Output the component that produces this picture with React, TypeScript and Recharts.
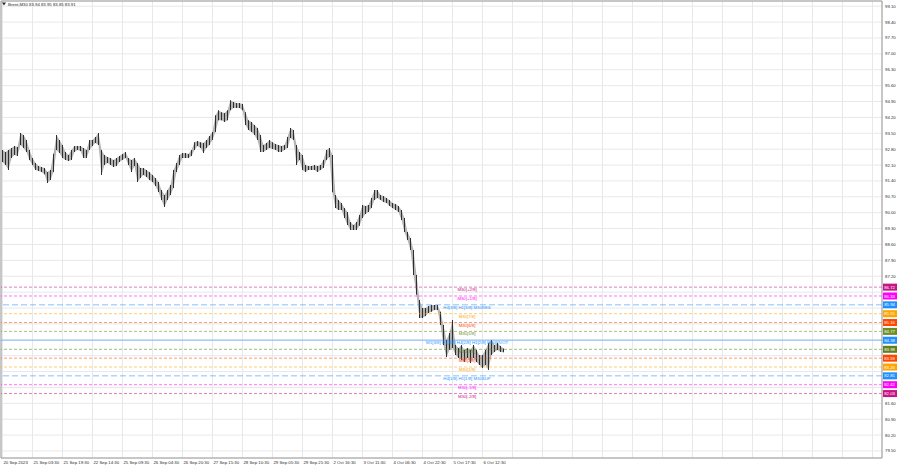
import { ComposedChart, Area, Bar, XAxis, YAxis, CartesianGrid, ReferenceLine, Customized } from "recharts"

const FONT = "'Liberation Sans', Arial, sans-serif"
const TEXT = "#2b2b2b"

const xLabels = [
  "20 Sep 2023", "21 Sep 03:30", "21 Sep 19:30", "22 Sep 14:30", "25 Sep 09:30", "26 Sep 04:30",
  "26 Sep 20:30", "27 Sep 15:30", "28 Sep 10:30", "29 Sep 05:30", "29 Sep 21:30", "2 Oct 16:30",
  "3 Oct 11:30", "4 Oct 06:30", "4 Oct 22:30", "5 Oct 17:30", "6 Oct 12:30",
]

const yTicks = [
  79.5, 80.2, 80.9, 81.6, 82.3, 83.0, 83.7, 84.4, 85.1, 85.8, 86.5, 87.2, 87.9, 88.6, 89.3,
  90.0, 90.7, 91.4, 92.1, 92.8, 93.5, 94.2, 94.9, 95.6, 96.3, 97.0, 97.7, 98.4, 99.1,
]

// bar highs / lows, one entry per ~3 M30 bars
const highs = [
  92.76, 92.67, 92.76, 92.85, 92.94, 92.90, 93.51, 93.42, 93.20, 92.76,
  92.41, 92.19, 92.06, 92.01, 91.97, 91.79, 91.88, 92.60, 93.42, 93.20,
  92.98, 92.67, 92.54, 92.76, 92.94, 92.94, 92.94, 92.85, 92.76, 93.20,
  93.20, 93.34, 93.51, 92.76, 92.54, 92.45, 92.41, 92.32, 92.41, 92.50,
  92.59, 92.67, 92.41, 92.32, 92.41, 92.19, 91.97, 91.97, 91.88, 91.79,
  91.66, 91.53, 91.35, 91.00, 90.78, 91.00, 91.22, 91.88, 92.19, 92.54,
  92.63, 92.63, 92.59, 92.76, 93.11, 93.16, 93.11, 93.07, 93.20, 93.38,
  93.56, 94.30, 94.52, 94.43, 94.39, 94.52, 94.96, 94.88, 94.83, 94.83,
  94.79, 94.43, 94.08, 94.00, 93.86, 93.73, 93.42, 92.98, 93.07, 93.20,
  93.11, 93.03, 92.98, 92.94, 92.98, 93.34, 93.73, 93.64, 92.98, 92.67,
  92.54, 92.10, 92.06, 92.06, 92.10, 92.06, 92.10, 92.32, 92.76, 92.85,
  92.54, 90.78, 90.56, 90.43, 90.21, 90.03, 89.59, 89.46, 89.59, 89.90,
  90.34, 90.30, 90.34, 90.65, 91.00, 91.00, 90.78, 90.74, 90.65, 90.56,
  90.43, 90.38, 90.30, 90.12, 89.77, 89.15, 88.89, 88.36, 87.26, 86.15,
  85.80, 85.80, 85.89, 85.93, 85.93, 85.93, 85.63, 85.05, 84.39, 84.70,
  85.27, 84.17, 84.04, 84.17, 83.95, 84.04, 83.95, 84.17, 83.95, 83.73,
  83.73, 83.95, 84.26, 84.39, 84.17, 84.26, 84.13, 84.02,
]

const lows = [
  92.23, 92.10, 91.88, 92.41, 92.54, 92.50, 92.98, 92.85, 92.67, 92.32,
  92.10, 91.88, 91.84, 91.79, 91.70, 91.31, 91.44, 91.79, 92.76, 92.63,
  92.41, 92.32, 92.28, 92.32, 92.67, 92.76, 92.72, 92.41, 92.41, 92.76,
  92.94, 93.07, 92.98, 91.66, 92.10, 92.19, 92.10, 92.01, 92.06, 92.23,
  92.32, 92.41, 92.10, 91.79, 92.06, 91.35, 91.53, 91.66, 91.57, 91.44,
  91.35, 91.18, 90.91, 90.56, 90.25, 90.56, 90.78, 91.09, 91.79, 92.10,
  92.41, 92.41, 92.41, 92.50, 92.76, 92.94, 92.85, 92.63, 92.85, 92.98,
  93.20, 93.56, 94.08, 94.08, 94.00, 94.08, 94.52, 94.61, 94.61, 94.61,
  94.52, 93.86, 93.64, 93.56, 93.42, 93.20, 92.67, 92.67, 92.76, 92.85,
  92.81, 92.76, 92.67, 92.67, 92.76, 92.85, 93.29, 93.20, 92.10, 92.32,
  91.88, 91.79, 91.88, 91.88, 91.88, 91.79, 91.88, 91.97, 92.32, 92.45,
  90.90, 90.21, 90.12, 90.12, 89.77, 89.46, 89.24, 89.24, 89.24, 89.42,
  89.77, 89.94, 90.03, 90.21, 90.56, 90.65, 90.56, 90.47, 90.43, 90.30,
  90.21, 90.12, 90.03, 89.68, 89.15, 88.80, 88.36, 87.26, 86.38, 85.36,
  85.36, 85.45, 85.58, 85.63, 85.71, 85.71, 85.05, 84.17, 83.64, 83.95,
  84.04, 83.73, 83.60, 83.51, 83.42, 83.60, 83.38, 83.60, 83.42, 83.29,
  83.16, 83.29, 83.07, 83.73, 83.86, 83.95, 83.86, 83.85,
]

const levelValues = [86.72, 86.33, 85.94, 85.55, 85.16, 84.77, 84.38, 83.98, 83.59, 83.2, 82.81, 82.42, 82.03]
const levelNames = [
  "M30[+2/8]", "M30[+1/8]", "H4[3/8] H1[3/8] M30RES", "M30[7/8]", "M30[6/8]", "M30[5/8]",
  "W1[3/8] D1[3/8] H4[2/8] H1[2/8] M30PIVOT", "M30[3/8]", "M30[2/8]", "M30[1/8]",
  "H4[1/8] H1[1/8] M30SUP", "M30[-1/8]", "M30[-2/8]",
]

// styles for the levels
const levelColors = [
  "#c71585", "#ff00ff", "#1e90ff", "#ffa500", "#ff4500", "#6b8e23", "#1e90ff",
  "#5f7f1f", "#ff4500", "#ffa500", "#1e90ff", "#ff00ff", "#c71585",
]
const levelDash = ["3 2", "3 2", "6 3", "3 2", "3 2", "3 2", undefined, "3 2", "3 2", "3 2", "6 3", "3 2", "3 2"]

const rows = highs.map((h, i) => ({ i, range: [lows[i], h] }))
const gridTicks = Array.from({ length: 30 }, (_, k) => k * 10)

const XTick = ({ x, y, payload }: any) => {
  const label = xLabels[payload.value / 10]
  if (!label) return <g />
  return (
    <text x={x + 1} y={y + 5.5} fontSize={4.3} fill={TEXT} fontFamily={FONT} textAnchor="start">
      {label}
    </text>
  )
}

// price labels that sit under a level box are covered in the terminal, so skip them
const YTick = ({ x, y, payload }: any) => {
  if (levelValues.some((v) => Math.abs(v - payload.value) < 0.21)) return <g />
  return (
    <text x={x + 3} y={y + 1.5} fontSize={4.3} fill={TEXT} fontFamily={FONT} textAnchor="start">
      {payload.value.toFixed(2)}
    </text>
  )
}

const LevelLabel = ({ viewBox, name, value, color }: any) => {
  if (!viewBox) return null
  const { x, y, width } = viewBox
  return (
    <g>
      <text x={x + 466} y={y + 4} fontSize={4.3} fill={color} fontFamily={FONT} textAnchor="middle">
        {name}
      </text>
      <rect x={x + width + 1} y={y - 3.5} width={14} height={7} fill={color} />
      <text x={x + width + 2.2} y={y + 1.6} fontSize={4.3} fill="#fff" fontFamily={FONT}>
        {value.toFixed(2)}
      </text>
    </g>
  )
}

const Title = () => (
  <g>
    <polygon points="2,2.5 6,2.5 4,5.5" fill={TEXT} />
    <text x={8} y={5.8} fontSize={4.3} fill={TEXT} fontFamily={FONT}>
      Brent,M30  83.94 83.95 83.85 83.91
    </text>
  </g>
)

export default function App() {
  return (
    <div style={{ position: "fixed", left: 0, top: 0, width: 900, height: 468, background: "#fff" }}>
      <ComposedChart width={900} height={468} data={rows} margin={{ top: 1, right: 0, bottom: 0, left: 1 }}>
        <CartesianGrid stroke="#e8e8e8" />
        <XAxis
          dataKey="i"
          type="number"
          domain={[-0.5, 293.17]}
          allowDataOverflow
          ticks={gridTicks}
          interval={0}
          height={10}
          axisLine={{ stroke: "#9a9a9a" }}
          tickLine={false}
          tickSize={0}
          tickMargin={0}
          tick={<XTick />}
        />
        <YAxis
          orientation="right"
          type="number"
          domain={[79.19, 99.33]}
          allowDataOverflow
          ticks={yTicks}
          interval={0}
          width={18}
          axisLine={{ stroke: "#9a9a9a" }}
          tickLine={false}
          tickSize={0}
          tickMargin={0}
          tick={<YTick />}
        />
        <ReferenceLine x={-0.5} stroke="#9a9a9a" />
        <ReferenceLine y={99.33} stroke="#9a9a9a" />
        {levelValues.map((v, k) => (
          <ReferenceLine
            key={k}
            y={v}
            stroke={levelColors[k]}
            strokeOpacity={0.55}
            strokeDasharray={levelDash[k]}
            label={(p: any) => (
              <LevelLabel viewBox={p.viewBox} name={levelNames[k]} value={v} color={levelColors[k]} />
            )}
          />
        ))}
        <Area
          dataKey="range"
          type="linear"
          stroke="none"
          fill="#b4b4b4"
          fillOpacity={1}
          dot={false}
          activeDot={false}
          isAnimationActive={false}
        />
        <Bar dataKey="range" fill="#2e2e2e" barSize={1} isAnimationActive={false} />
        <Customized component={Title} />
      </ComposedChart>
    </div>
  )
}
